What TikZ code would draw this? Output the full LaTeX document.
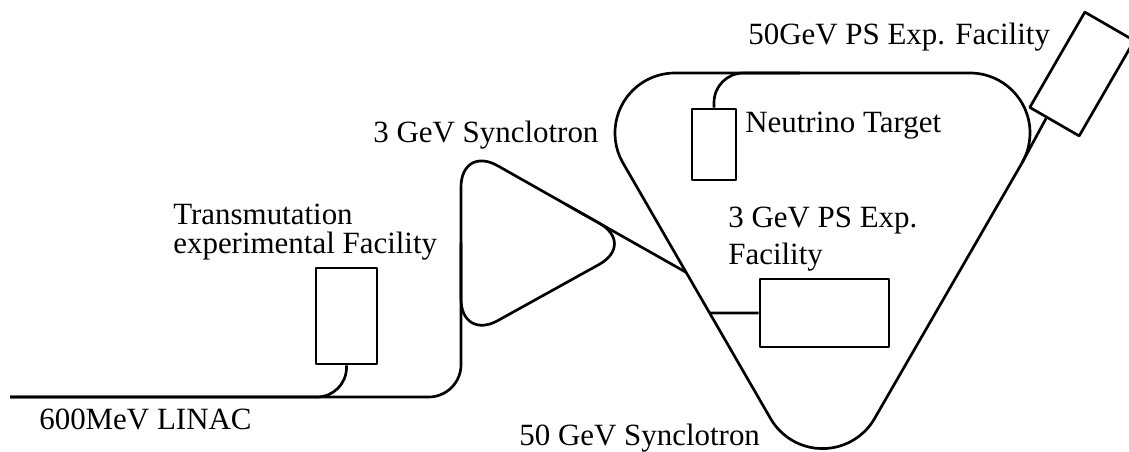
\documentclass[tikz,border=0pt]{standalone}
\usepackage{fontspec}
\setmainfont{Liberation Serif}
\usetikzlibrary{calc}
\tikzset{
  lbl/.style={font=\fontsize{22}{20.5}\selectfont, inner sep=0pt, anchor=base west, align=left},
  box/.style={draw, inner sep=0pt},
}
\begin{document}
\begin{tikzpicture}[x=0.025cm, y=-0.025cm, line width=1.9pt, line join=round]
  \useasboundingbox (0,0) rectangle (1129,452);
  % 3 GeV リング
  \coordinate (s1) at (461,145);
  \coordinate (s2) at (461,341);
  \coordinate (s3) at (636,244);
  \draw[rounded corners=30pt] (s1) -- (s3) -- (s2) -- cycle;
  % 50 GeV リング（角は半径60の円弧）
  \draw (675,73) -- (970,73) arc (-90:30:60) coordinate (rt)
    -- (874.5,418.6) arc (30:150:60) coordinate (lb)
    -- (623,163) coordinate (lt) arc (150:270:60) -- cycle;
  % LINAC
  \coordinate (lin) at (10,397);
  \draw[rounded corners=23pt] (lin) -| ($(s1)!0.5!(s2)$);
  % 3 GeV -> 50 GeV
  \coordinate (j) at (intersection of s1--s3 and lt--lb);
  \draw ($(s1)!0.6!(s3)$) -- (j);
  % 実験施設
  \node[box, minimum width=1.525cm, minimum height=2.4cm] (tm) at (346.5,316) {};
  \draw[rounded corners=21pt] (tm.south) |- (lin);
  \node[box, minimum width=1.1cm, minimum height=1.775cm] (nt) at (714,144.5) {};
  \draw[rounded corners=21pt] (nt.north) |- (800,73);
  \node[box, minimum width=3.225cm, minimum height=1.7cm] (ps) at (824.5,313) {};
  \draw (ps.west) -- (intersection of ps.west--ps.east and lt--lb);
  \node[box, minimum width=1.425cm, minimum height=2.75cm, rotate=-30] (pf) at (1082,74) {};
  \draw (rt) -- ($(pf.south)!0.3!(pf.south west)$);
  % ラベル
  \node[lbl] (linlbl) at (38,429) {600MeV LINAC};
  \node[lbl] (tmlbl) at (172,253) {Transmutation\\experimental Facility};
  \node[lbl] (syn3lbl) at (372,143) {3 GeV Synclotron};
  \node[lbl] (ntlbl) at (744,133) {Neutrino Target};
  \node[lbl] (pflbl) at (747,45) {50GeV PS Exp. Facility};
  \node[lbl] (pslbl) at (727,265) {3 GeV PS Exp.\\[6.5pt]Facility};
  \node[lbl] (syn50lbl) at (518,445) {50 GeV Synclotron};
\end{tikzpicture}
\end{document}
